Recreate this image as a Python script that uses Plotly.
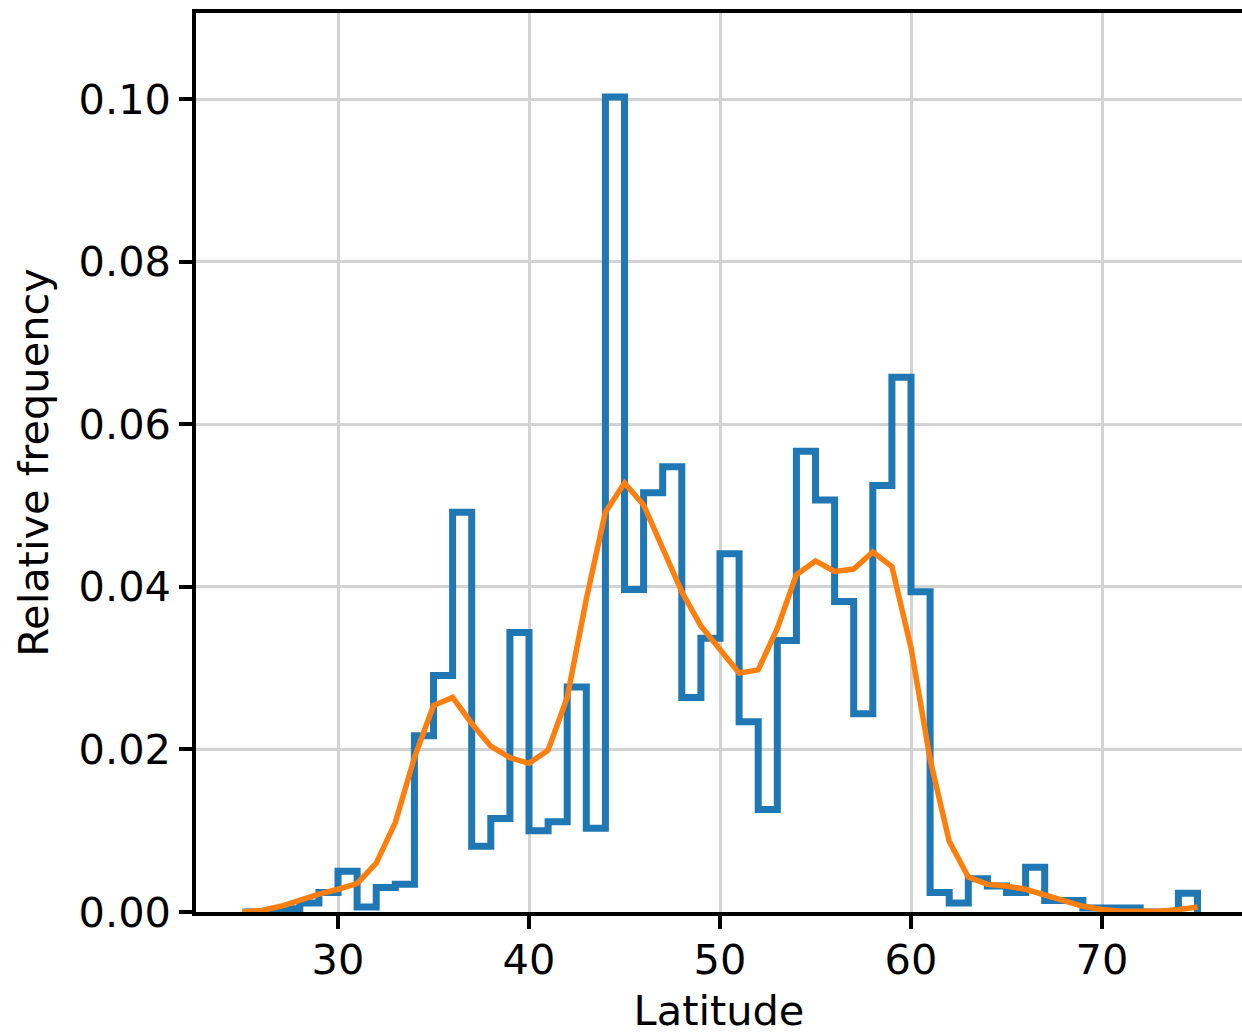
import plotly.graph_objects as go

# Histogram: bin left edges (width 1) and relative frequencies
bin_edges = list(range(25, 76))  # 25..75
hist_heights = [
    0.0000, 0.0000, 0.0004, 0.0011, 0.0024,   # 25-29
    0.0050, 0.0006, 0.0030, 0.0034, 0.0217,   # 30-34
    0.0291, 0.0492, 0.0081, 0.0115, 0.0344,   # 35-39
    0.0100, 0.0111, 0.0277, 0.0103, 0.1003,   # 40-44
    0.0397, 0.0516, 0.0548, 0.0264, 0.0337,   # 45-49
    0.0441, 0.0234, 0.0126, 0.0334, 0.0567,   # 50-54
    0.0507, 0.0382, 0.0244, 0.0525, 0.0658,   # 55-59
    0.0394, 0.0024, 0.0011, 0.0041, 0.0032,   # 60-64
    0.0024, 0.0055, 0.0014, 0.0014, 0.0005,   # 65-69
    0.0005, 0.0005, 0.0000, 0.0000, 0.0023,   # 70-74
]

# Density curve sampled at integer latitudes
kde_x = list(range(25, 76))
kde_y = [
    0.0000, 0.0002, 0.0007, 0.0015, 0.0022,   # 25-29
    0.0028, 0.0035, 0.0060, 0.0110, 0.0190,   # 30-34
    0.0254, 0.0264, 0.0232, 0.0204, 0.0190,   # 35-39
    0.0183, 0.0199, 0.0264, 0.0385, 0.0492,   # 40-44
    0.0528, 0.0501, 0.0447, 0.0394, 0.0352,   # 45-49
    0.0323, 0.0294, 0.0298, 0.0349, 0.0415,   # 50-54
    0.0432, 0.0419, 0.0422, 0.0443, 0.0425,   # 55-59
    0.0325, 0.0188, 0.0087, 0.0043, 0.0034,   # 60-64
    0.0032, 0.0028, 0.0021, 0.0013, 0.0007,   # 65-69
    0.0003, 0.0001, 0.0001, 0.0001, 0.0003,   # 70-74
    0.0006,                                   # 75
]

x_ticks = [30, 40, 50, 60, 70]
y_ticks = [0.00, 0.02, 0.04, 0.06, 0.08, 0.10]
y_ticklabels = ["0.00", "0.02", "0.04", "0.06", "0.08", "0.10"]

# Build the step outline (like histtype='step')
step_x = [bin_edges[0]] + bin_edges[:-1] + [bin_edges[-1], bin_edges[-1]]
step_y = [0] + hist_heights + [hist_heights[-1], 0]

fig = go.Figure()
fig.add_trace(go.Scatter(
    x=step_x, y=step_y, mode="lines",
    line=dict(color="#1f77b4", width=7, shape="hv"),
    showlegend=False, hoverinfo="skip",
))
fig.add_trace(go.Scatter(
    x=kde_x, y=kde_y, mode="lines",
    line=dict(color="#ff7f0e", width=5.5),
    showlegend=False,
))

font_family = "DejaVu Sans"
fs = 41.5
fig.update_layout(
    width=1242, height=1035,
    margin=dict(l=196, r=0, t=13, b=123, pad=0),
    paper_bgcolor="white", plot_bgcolor="white",
    font=dict(family=font_family, size=fs, color="black"),
)
fig.update_xaxes(
    range=[22.565, 77.33],
    tickvals=x_ticks, ticktext=[str(t) for t in x_ticks],
    showgrid=True, gridcolor="#d3d3d3", gridwidth=2.5,
    showline=True, linecolor="black", linewidth=3.5, mirror=True,
    ticks="outside", ticklen=13, tickwidth=3.5, tickcolor="black",
    ticklabelstandoff=-5,
    tickfont=dict(family=font_family, size=fs, color="black"),
    title=dict(text="Latitude", font=dict(family=font_family, size=fs, color="black"), standoff=19),
    zeroline=False, automargin=False,
)
fig.update_yaxes(
    range=[0, 0.11063],
    tickvals=y_ticks, ticktext=y_ticklabels,
    showgrid=True, gridcolor="#d3d3d3", gridwidth=2.5,
    showline=True, linecolor="black", linewidth=3.5, mirror=False,
    ticks="outside", ticklen=13, tickwidth=3.5, tickcolor="black",
    tickfont=dict(family=font_family, size=fs, color="black"),
    title=dict(text="Relative frequency", font=dict(family=font_family, size=fs, color="black"), standoff=18),
    zeroline=False, automargin=False,
)

fig.write_html(
    "out.html",
    config={"displayModeBar": False},
    post_script="document.body.style.margin='0';document.body.style.overflow='hidden';",
)
